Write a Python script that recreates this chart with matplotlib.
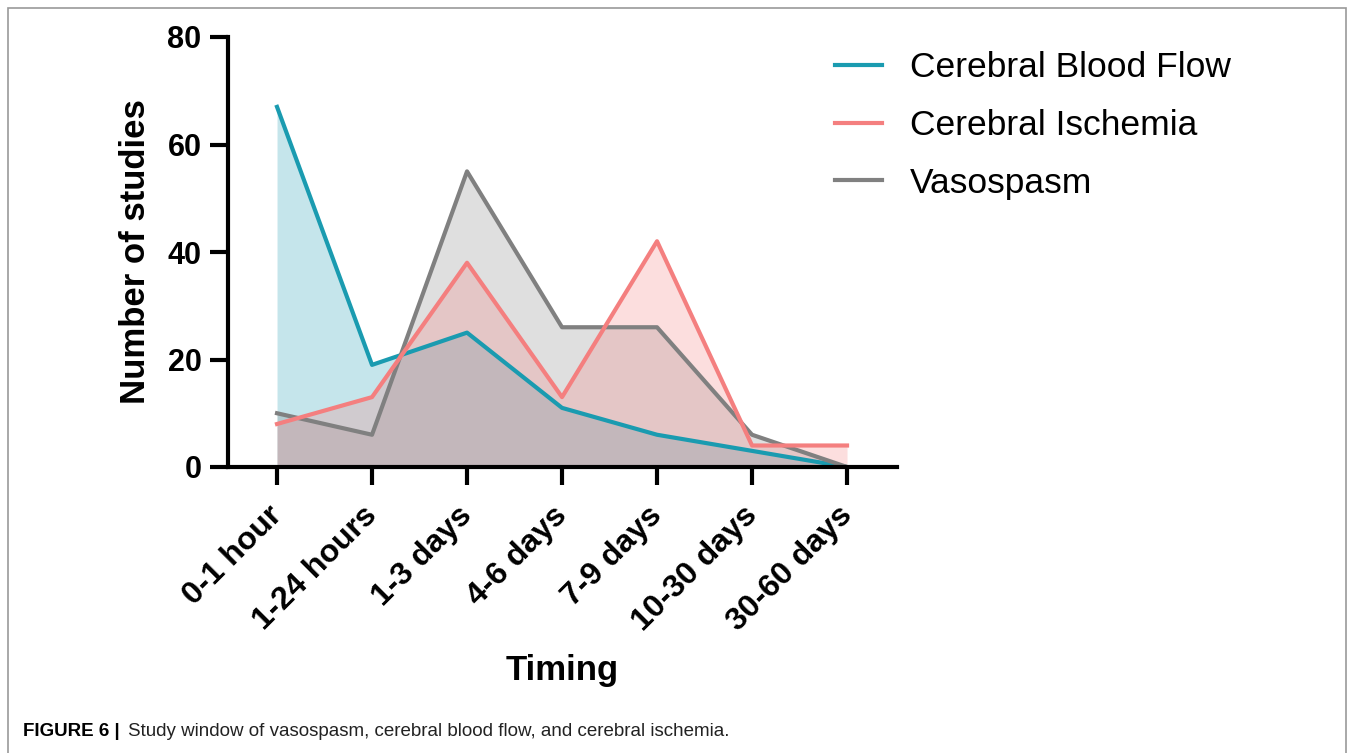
import matplotlib.pyplot as plt
from matplotlib.patches import Rectangle
from matplotlib.transforms import ScaledTranslation

timing = ['0-1 hour', '1-24 hours', '1-3 days', '4-6 days', '7-9 days', '10-30 days', '30-60 days']
blood_flow = [67, 19, 25, 11, 6, 3, 0]
ischemia = [8, 13, 38, 13, 42, 4, 4]
vasospasm = [10, 6, 55, 26, 26, 6, 0]

c_flow = '#1a9bb0'
c_isch = '#f47f7f'
c_vaso = '#808080'

plt.rcParams['font.family'] = ['Liberation Sans', 'DejaVu Sans']

fig = plt.figure(figsize=(13.49, 7.53), dpi=100)
ax = fig.add_axes([228 / 1349, 1 - 467 / 753, (897 - 228) / 1349, (467 - 37) / 753])

x = list(range(len(timing)))
ax.fill_between(x, blood_flow, color=c_flow, alpha=0.25, lw=0)
ax.plot(x, blood_flow, color=c_flow, lw=3, label='Cerebral Blood Flow')
ax.fill_between(x, vasospasm, color=c_vaso, alpha=0.25, lw=0)
vaso_line, = ax.plot(x, vasospasm, color=c_vaso, lw=3)
ax.fill_between(x, ischemia, color=c_isch, alpha=0.25, lw=0)
ax.plot(x, ischemia, color=c_isch, lw=3, label='Cerebral Ischemia')
vaso_line.set_label('Vasospasm')

ax.set_xlim(-0.516, 6.526)
ax.set_ylim(0, 80)
ax.set_yticks([0, 20, 40, 60, 80])
ax.set_xticks(x)
ax.set_xticklabels([])
# rotated category labels, placed under each tick
offset = ax.get_xaxis_transform() + ScaledTranslation(-0.10, -0.335, fig.dpi_scale_trans)
for i, name in zip(x, timing):
    ax.text(i, 0, name, transform=offset, rotation=45, ha='right', va='top',
            rotation_mode='anchor', fontsize=23, fontweight='bold')
for lbl in ax.get_yticklabels():
    lbl.set_fontsize(22)
    lbl.set_fontweight('bold')

for side in ['top', 'right']:
    ax.spines[side].set_visible(False)
for side in ['left', 'bottom']:
    ax.spines[side].set_linewidth(3)
ax.tick_params(width=3, length=13, pad=6)

ax.set_ylabel('Number of studies', fontsize=25, fontweight='bold', labelpad=11)
ax.set_xlabel('Timing', fontsize=25, fontweight='bold')
ax.xaxis.set_label_coords(0.5, -0.435)

handles, labels = ax.get_legend_handles_labels()
order = [labels.index(n) for n in ['Cerebral Blood Flow', 'Cerebral Ischemia', 'Vasospasm']]
ax.legend([handles[i] for i in order], [labels[i] for i in order],
          loc='upper left', bbox_to_anchor=(0.859, 1.041), frameon=False,
          fontsize=25.5, handlelength=1.33, handletextpad=0.79, labelspacing=0.70)

fig.text(23 / 1349, 1 - 731 / 753, 'FIGURE 6 |', fontsize=13.5, fontweight='bold', va='center')
fig.text(128 / 1349, 1 - 731 / 753,
         'Study window of vasospasm, cerebral blood flow, and cerebral ischemia.',
         fontsize=13.5, va='center', color='#222222')

fig.patches.append(Rectangle((8 / 1349, -0.01), 1338 / 1349, 1 - 8 / 753 + 0.01,
                             transform=fig.transFigure, fill=False,
                             edgecolor='#999999', lw=1.2))

fig.savefig('out.png', dpi=100)
